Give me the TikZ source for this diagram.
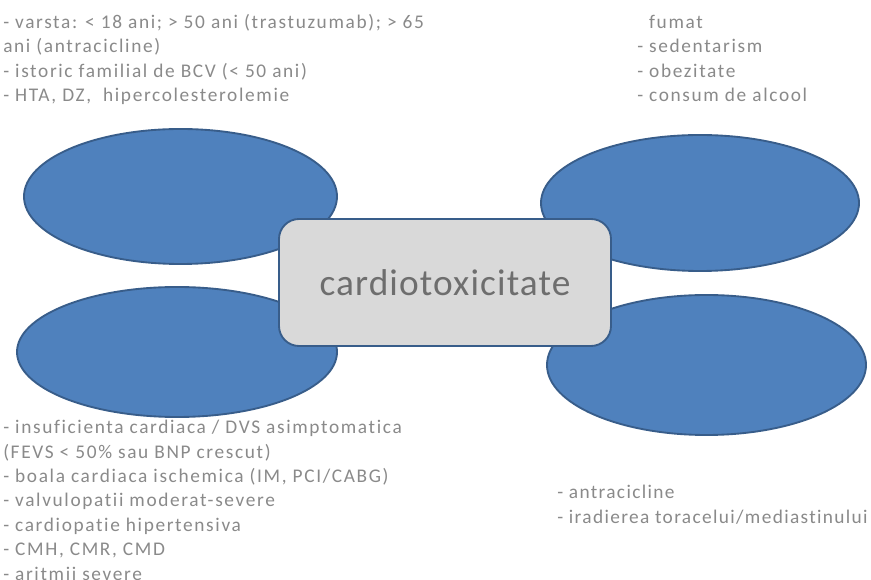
\documentclass[tikz,border=0pt]{standalone}
\usepackage{fontspec}
\setmainfont{Carlito}
\newfontfamily\widecalibri[LetterSpace=8.5,Ligatures=NoCommon]{Carlito}
\newfontfamily\snugcalibri[LetterSpace=7,Ligatures=NoCommon]{Carlito}
\newfontfamily\corefont[LetterSpace=3,Ligatures=NoCommon]{Carlito}
\usetikzlibrary{shapes.geometric}
\definecolor{blobfill}{HTML}{4F81BD}
\definecolor{blobline}{HTML}{385D8A}
\definecolor{corefill}{HTML}{D9D9D9}
\definecolor{notegray}{HTML}{8A8A8A}
\definecolor{coregray}{HTML}{6E6E6E}
\tikzset{
  x=0.75pt, y=-0.75pt,
  blob/.style={ellipse, draw=blobline, fill=blobfill, line width=1.4pt, inner sep=0pt},
  core/.style={rectangle, rounded corners=15pt, draw=blobline, fill=corefill, line width=1.4pt,
    minimum width=249pt, minimum height=95.25pt, inner sep=0pt,
    font=\corefont\fontsize{28}{32}\selectfont, text=coregray},
  note/.style={anchor=north west, inner sep=0pt, align=left, text=notegray,
    font=\widecalibri\fontsize{14.5}{18.3}\selectfont},
  snugnote/.style={note, font=\snugcalibri\fontsize{14.5}{18.3}\selectfont}
}
\begin{document}
\begin{tikzpicture}
\useasboundingbox (0,0) rectangle (871,580);
\fill[white] (0,0) rectangle (871,580);

% four risk-factor ellipses
\node[blob, minimum width=234.75pt, minimum height=101.25pt] (tl) at (180.5,196.5) {};
\node[blob, minimum width=238.5pt, minimum height=102pt] (tr) at (700,203) {};
\node[blob, minimum width=240pt, minimum height=97.5pt] (bl) at (177,352) {};
\node[blob, minimum width=239.25pt, minimum height=105pt] (br) at (706.5,365) {};

% central box
\node[core] (center) at (445,282.5) {cardiotoxicitate};

% lists of factors
\node[note] (ntl) at (3,14) {- varsta: < 18 ani; > 50 ani (trastuzumab); > 65\\
ani (antracicline)\\
- istoric familial de BCV (< 50 ani)\\
- HTA, DZ,~ hipercolesterolemie};

\node[note] (ntr) at (637,15) {\hphantom{- }fumat\\
- sedentarism\\
- obezitate\\
- consum de alcool};

\node[note] (nbl) at (3,420) {- insuficienta cardiaca / DVS asimptomatica\\
(FEVS < 50\% sau BNP crescut)\\
- boala cardiaca ischemica (IM, PCI/CABG)\\
- valvulopatii moderat-severe\\
- cardiopatie hipertensiva\\
- CMH, CMR, CMD\\
- aritmii severe};

\node[snugnote] (nbr) at (557,485) {- antracicline\\
- iradierea toracelui/mediastinului};
\end{tikzpicture}
\end{document}
